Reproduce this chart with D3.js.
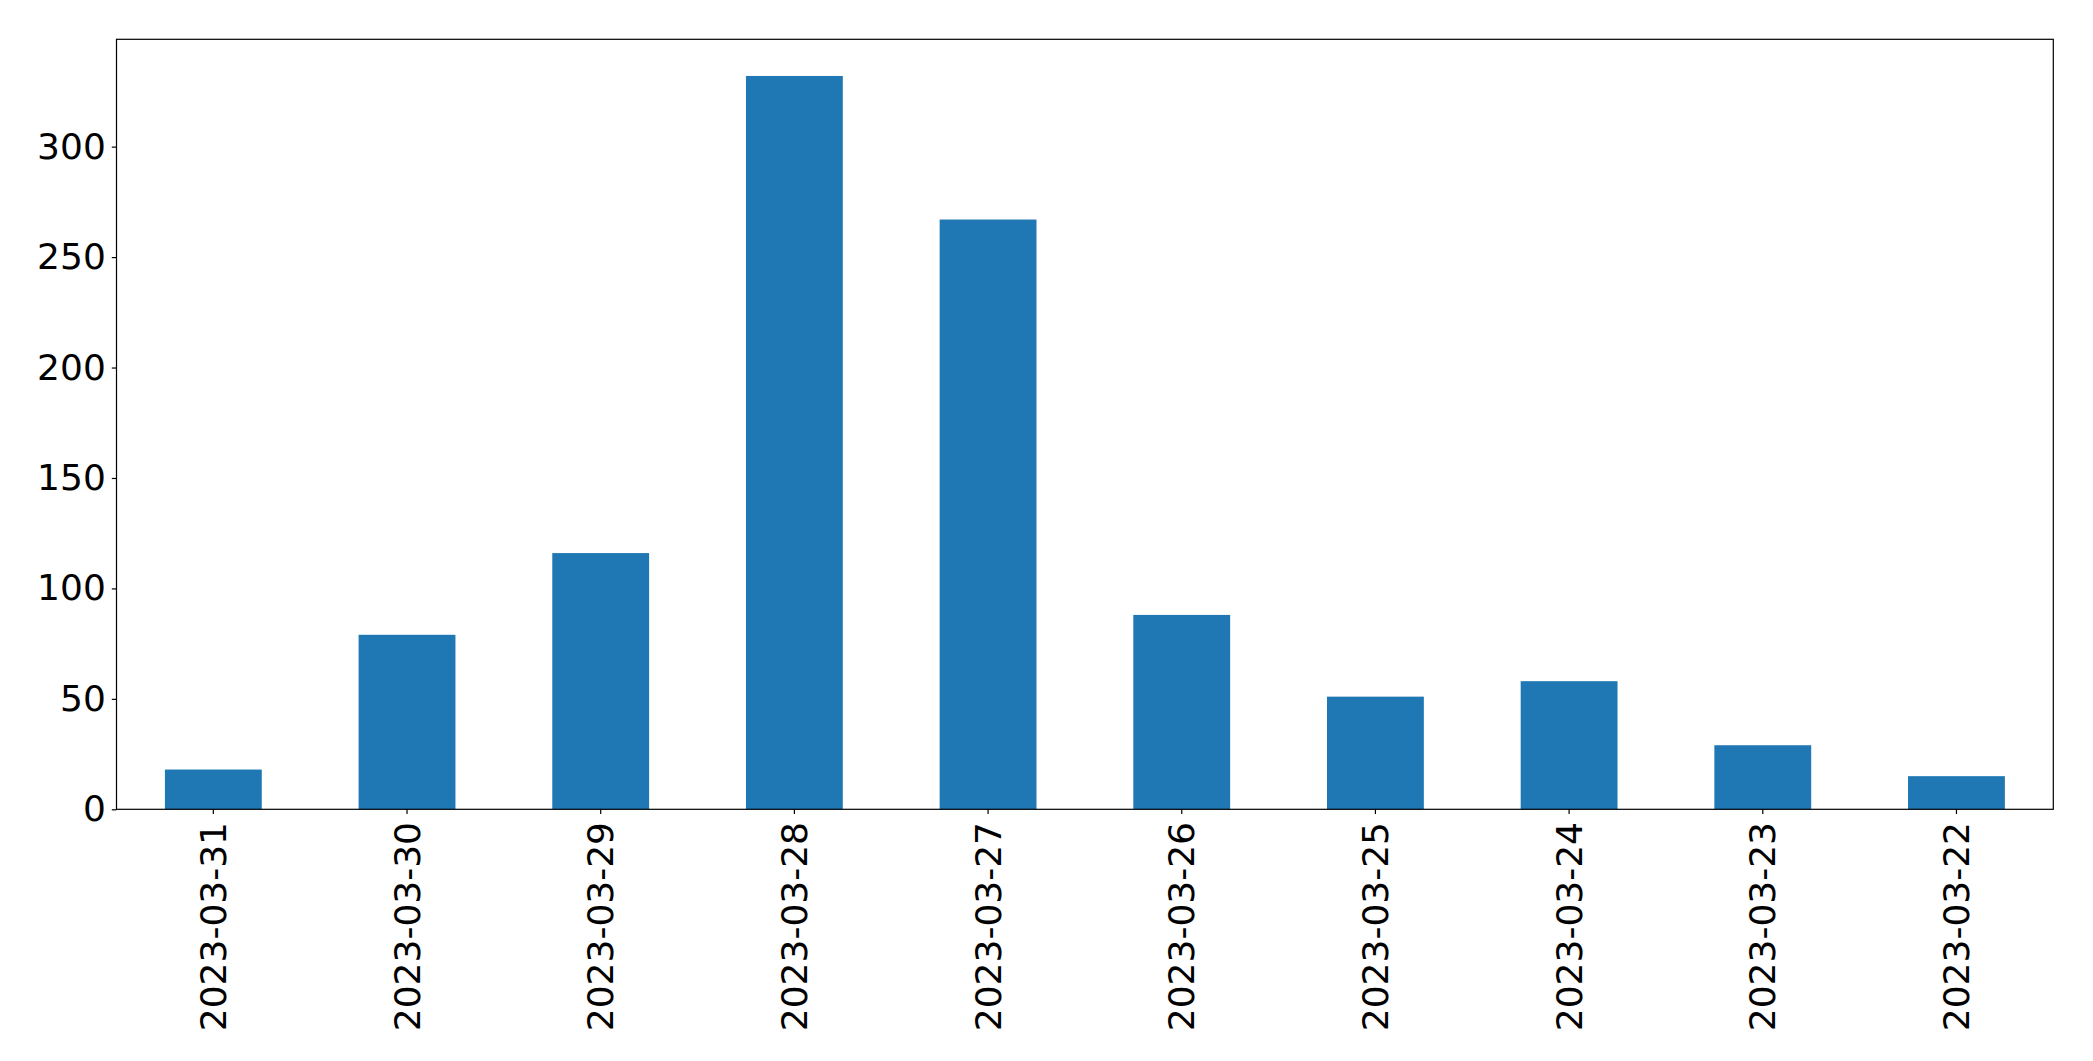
<!DOCTYPE html>
<html>
<head>
<meta charset="utf-8">
<script src="https://cdn.jsdelivr.net/npm/d3@7"></script>
<style>
  html, body { margin: 0; padding: 0; background: #ffffff; }
  svg { display: block; }
</style>
</head>
<body>
<svg id="chart" width="2093" height="1061"></svg>
<script>
const categories = ["2023-03-31","2023-03-30","2023-03-29","2023-03-28","2023-03-27","2023-03-26","2023-03-25","2023-03-24","2023-03-23","2023-03-22"];
const values = [18, 79, 116, 332, 267, 88, 51, 58, 29, 15];
const yTicks = [0, 50, 100, 150, 200, 250, 300];

const W = 2093, H = 1061;
const margin = {left: 116.5, right: W - 2053.3, top: 39.3, bottom: H - 809.3};
const fontSize = 36;

const svg = d3.select("#chart");
const x = d3.scaleBand().domain(categories).range([margin.left, W - margin.right]).paddingInner(0.5).paddingOuter(0.25);
const yMax = d3.max(values) * 1.05;
const y = d3.scaleLinear().domain([0, yMax]).range([H - margin.bottom, margin.top]);

svg.append("g").selectAll("rect").data(values).join("rect")
  .attr("x", (d, i) => x(categories[i]))
  .attr("y", d => y(d))
  .attr("width", x.bandwidth())
  .attr("height", d => y(0) - y(d))
  .attr("fill", "#1f77b4");

const yAxis = svg.append("g").attr("transform", `translate(${margin.left},0)`)
  .call(d3.axisLeft(y).tickValues(yTicks).tickSize(4.7).tickPadding(6).tickFormat(d3.format("d")));
const xAxis = svg.append("g").attr("transform", `translate(0,${H - margin.bottom})`)
  .call(d3.axisBottom(x).tickSize(4.7).tickPadding(6));

[yAxis, xAxis].forEach(g => {
  g.select(".domain").remove();
  g.selectAll(".tick line").attr("stroke", "#000").attr("stroke-width", 1.2);
  g.selectAll("text").attr("font-family", "DejaVu Sans").attr("font-size", fontSize).attr("fill", "#000");
});

xAxis.selectAll(".tick text")
  .attr("transform", "rotate(-90)")
  .attr("text-anchor", "end")
  .attr("x", -(4.7 + 8))
  .attr("y", 0)
  .attr("dy", "0.35em");

// frame
svg.append("rect")
  .attr("x", margin.left).attr("y", margin.top)
  .attr("width", W - margin.right - margin.left)
  .attr("height", H - margin.bottom - margin.top)
  .attr("fill", "none").attr("stroke", "#000").attr("stroke-width", 1.2);
</script>
</body>
</html>
